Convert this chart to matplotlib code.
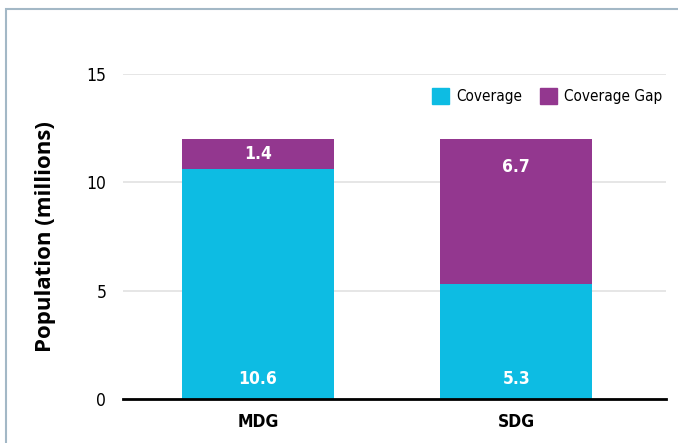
import matplotlib.pyplot as plt
from matplotlib.patches import Rectangle, Patch
from matplotlib import font_manager

categories = ["MDG", "SDG"]
coverage = [10.6, 5.3]
coverage_gap = [1.4, 6.7]

cyan = "#0dbce3"
purple = "#93378f"

W, H = 678, 443
fig = plt.figure(figsize=(W / 100, H / 100), dpi=100)
ax = fig.add_axes([123 / W, 1 - 399 / H, (666 - 123) / W, (399 - 74) / H])

narrow = font_manager.FontProperties(family="DejaVu Sans", stretch="condensed", size=12.5)
narrow_b = font_manager.FontProperties(family="DejaVu Sans", stretch="condensed",
                                       weight="bold", size=12.5)
legend_font = font_manager.FontProperties(family="DejaVu Sans", stretch="condensed", size=11)

x = range(len(categories))
ax.bar(x, coverage, width=0.59, color=cyan, zorder=2)
ax.bar(x, coverage_gap, bottom=coverage, width=0.59, color=purple, zorder=2)

for i in x:
    ax.text(i, 0.9, f"{coverage[i]}", ha="center", va="center", color="white",
            fontproperties=narrow_b)
    total = coverage[i] + coverage_gap[i]
    ax.text(i, total - min(coverage_gap[i] / 2, 1.3), f"{coverage_gap[i]}", ha="center",
            va="center", color="white", fontproperties=narrow_b)

ax.set_xlim(-0.523, 1.58)
ax.set_ylim(0, 15)
ax.set_yticks([0, 5, 10, 15])
ax.yaxis.grid(True, color="#e2e2e2", lw=1.2, zorder=0)
ax.tick_params(axis="y", length=0, pad=12)
ax.tick_params(axis="x", length=0, pad=10)
ax.set_xticks(list(x))
ax.set_xticklabels(categories)
for lab in ax.get_yticklabels():
    lab.set_fontproperties(narrow)
for lab in ax.get_xticklabels():
    lab.set_fontproperties(narrow_b)

for s in ["top", "right", "left"]:
    ax.spines[s].set_visible(False)
ax.spines["bottom"].set_linewidth(2)
ax.spines["bottom"].set_color("black")
ax.spines["bottom"].set_zorder(3)

ax.set_ylabel("Population (millions)", fontsize=16, fontweight="bold",
              family="Open Sans", labelpad=22)

handles = [Patch(color=cyan, label="Coverage"), Patch(color=purple, label="Coverage Gap")]
ax.legend(handles=handles, loc="upper right", bbox_to_anchor=(1.018, 1.0), ncol=2,
          frameon=False, handlelength=1.1, handleheight=1.3, handletextpad=0.45,
          columnspacing=1.2, prop=legend_font)

fig.patches.append(Rectangle((6 / W, -0.1), 1.2, 1 - 9 / H + 0.1, transform=fig.transFigure,
                             fill=False, edgecolor="#a3b8c6", lw=1.5))

fig.savefig("out.png", dpi=100)
